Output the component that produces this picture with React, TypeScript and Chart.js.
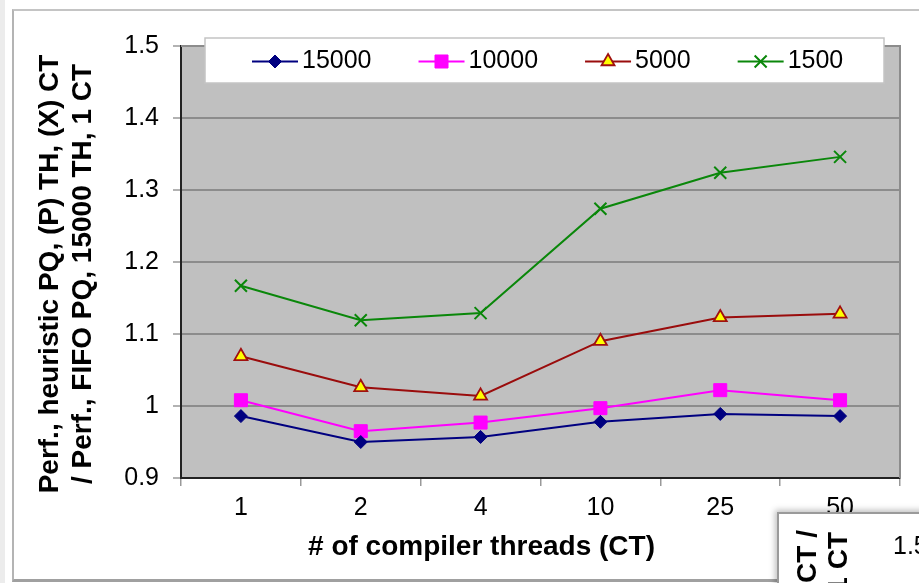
import React, { useEffect, useRef } from 'react';
import { Chart, registerables } from 'chart.js';
import { drawPoint } from 'chart.js/helpers';

Chart.register(...registerables);

// ---- data ----
const categories = ['1', '2', '4', '10', '25', '50'];
const seriesNames = ['15000', '10000', '5000', '1500'];
const s15000 = [0.986, 0.95, 0.957, 0.978, 0.989, 0.986];
const s10000 = [1.008, 0.965, 0.977, 0.997, 1.022, 1.008];
const s5000 = [1.069, 1.026, 1.014, 1.09, 1.123, 1.128];
const s1500 = [1.167, 1.119, 1.129, 1.274, 1.324, 1.346];
const yMin = 0.9;
const yMax = 1.5;
const yStep = 0.1;
const xTitle = '# of compiler threads (CT)';
const yTitleLines = ['Perf., heuristic PQ, (P) TH, (X) CT', '/ Perf., FIFO PQ, 15000 TH, 1 CT'];
const insetTitleLines = ['CT /', '1 CT'];
const insetTick = '1.5';

const FONT = '"Liberation Sans", Arial, Helvetica, sans-serif';

const decorPlugin = {
  id: 'decor',
  beforeDraw(chart: any) {
    const { ctx, chartArea: a } = chart;
    ctx.save();
    ctx.fillStyle = '#c0c0c0';
    ctx.fillRect(a.left, a.top, a.right - a.left, a.bottom - a.top);
    ctx.restore();
  },
  beforeDatasetsDraw(chart: any) {
    const { ctx, chartArea: a } = chart;
    ctx.save();
    ctx.strokeStyle = '#8c8c8c';
    ctx.lineWidth = 2;
    ctx.beginPath();
    ctx.moveTo(a.left, a.top);
    ctx.lineTo(a.right, a.top);
    ctx.lineTo(a.right, a.bottom);
    ctx.stroke();
    ctx.restore();
  },
  afterDraw(chart: any) {
    const { ctx } = chart;
    ctx.save();
    // legend box
    const bx = 205, by = 38, bw = 679, bh = 45;
    ctx.fillStyle = '#ffffff';
    ctx.fillRect(bx, by, bw, bh);
    ctx.strokeStyle = '#c4c4c4';
    ctx.lineWidth = 1.5;
    ctx.strokeRect(bx, by, bw, bh);
    const cy = 61.5;
    let x = 252;
    ctx.font = `25px ${FONT}`;
    chart.data.datasets.forEach((ds: any) => {
      ctx.strokeStyle = ds.borderColor;
      ctx.lineWidth = 2;
      ctx.beginPath();
      ctx.moveTo(x, cy);
      ctx.lineTo(x + 46, cy);
      ctx.stroke();
      ctx.fillStyle = ds.pointBackgroundColor;
      ctx.strokeStyle = ds.pointBorderColor;
      ctx.lineWidth = ds.pointBorderWidth;
      drawPoint(ctx, { pointStyle: ds.pointStyle, rotation: 0, radius: ds.pointRadius, borderWidth: ds.pointBorderWidth }, x + 23, cy);
      ctx.fillStyle = '#000';
      ctx.textAlign = 'left';
      ctx.textBaseline = 'middle';
      ctx.fillText(ds.label, x + 50, cy);
      x += 50 + ctx.measureText(ds.label).width + 47;
    });
    // axis titles
    ctx.fillStyle = '#000';
    ctx.font = `bold 28px ${FONT}`;
    ctx.textAlign = 'center';
    ctx.textBaseline = 'middle';
    ctx.fillText(xTitle, 481.5, 547);
    const lineX = [50, 83];
    yTitleLines.forEach((t, i) => {
      ctx.save();
      ctx.translate(lineX[i], 274);
      ctx.rotate(-Math.PI / 2);
      ctx.fillText(t, 0, 0);
      ctx.restore();
    });
    ctx.restore();
  },
};

export default function App() {
  const ref = useRef<HTMLCanvasElement>(null);
  useEffect(() => {
    if (!ref.current) return;
    const mk = (label: string, data: number[], color: string, style: string, radius: number, bg: string, bc: string, bw: number) => ({
      label,
      data,
      borderColor: color,
      backgroundColor: color,
      borderWidth: 2,
      pointStyle: style,
      pointRadius: radius,
      pointHoverRadius: radius,
      pointBackgroundColor: bg,
      pointBorderColor: bc,
      pointBorderWidth: bw,
      tension: 0,
    });
    const chart = new Chart(ref.current, {
      type: 'line',
      data: {
        labels: categories,
        datasets: [
          mk(seriesNames[0], s15000, '#000080', 'rectRot', 6.5, '#000080', '#000080', 1),
          mk(seriesNames[1], s10000, '#ff00ff', 'rect', 9.2, '#ff00ff', '#ff00ff', 1),
          mk(seriesNames[2], s5000, '#9a0c0c', 'triangle', 7.5, '#ffff00', '#a01010', 1.8),
          mk(seriesNames[3], s1500, '#0a870a', 'crossRot', 8.5, '#0a870a', '#0a870a', 2),
        ],
      },
      options: {
        responsive: false,
        animation: false,
        devicePixelRatio: 1,
        layout: { padding: { top: 46, right: 19, left: 0, bottom: 0 } },
        plugins: { legend: { display: false }, tooltip: { enabled: false }, title: { display: false } },
        scales: {
          x: {
            type: 'category',
            offset: true,
            afterFit: (s: any) => { s.height = 105; },
            grid: { display: true, drawOnChartArea: false, drawTicks: true, tickLength: 8, offset: true, color: '#999999', lineWidth: 1.5 },
            border: { display: true, color: '#222222', width: 2 },
            ticks: { font: { family: FONT, size: 25 }, color: '#000', padding: 7, maxRotation: 0 },
          },
          y: {
            type: 'linear',
            min: yMin,
            max: yMax,
            afterFit: (s: any) => { s.width = 181; },
            grid: { color: '#8c8c8c', lineWidth: 2, tickLength: 8, tickColor: '#999999', tickWidth: 1.5 },
            border: { display: true, color: '#222222', width: 2 },
            ticks: {
              stepSize: yStep,
              font: { family: FONT, size: 25 },
              color: '#000',
              padding: 14,
              callback: (v: any) => String(Math.round(Number(v) * 10) / 10),
            },
          },
        },
      },
      plugins: [decorPlugin],
    } as any);
    return () => chart.destroy();
  }, []);

  const rot: React.CSSProperties = {
    position: 'absolute',
    transformOrigin: '0 0',
    transform: 'rotate(-90deg) translate(-100%, -50%)',
    whiteSpace: 'nowrap',
    font: `bold 28px ${FONT}`,
    lineHeight: '33px',
    color: '#000',
  };

  return (
    <div style={{ position: 'absolute', left: 0, top: 0, width: 919, height: 583, background: '#fff', overflow: 'hidden' }}>
      <div style={{ position: 'absolute', left: 0, top: 0, width: 5, height: 583, background: '#ececec' }} />
      <canvas ref={ref} width={919} height={583} style={{ position: 'absolute', left: 0, top: 0, width: 919, height: 583 }} />
      <div
        style={{
          position: 'absolute', left: 12, top: 9, width: 1000, height: 573, boxSizing: 'border-box',
          borderLeft: '2px solid #b4b4b4', borderTop: '2px solid #c4c4c4', borderBottom: '3px solid #a0a0a0',
          pointerEvents: 'none',
        }}
      />
      <div
        style={{
          position: 'absolute', left: 777, top: 512, width: 300, height: 200, background: '#fff',
          borderLeft: '2px solid #9a9a9a', borderTop: '2px solid #9a9a9a',
          boxShadow: '-2px -2px 6px rgba(0,0,0,0.25)', overflow: 'hidden',
        }}
      >
        <div style={{ ...rot, left: 27, top: 16 }}>{insetTitleLines[0]}</div>
        <div style={{ ...rot, left: 58, top: 18 }}>{insetTitleLines[1]}</div>
        <div style={{ position: 'absolute', left: 114, top: 16, font: `25px ${FONT}`, lineHeight: '30px', color: '#000', whiteSpace: 'nowrap' }}>{insetTick}</div>
      </div>
    </div>
  );
}
